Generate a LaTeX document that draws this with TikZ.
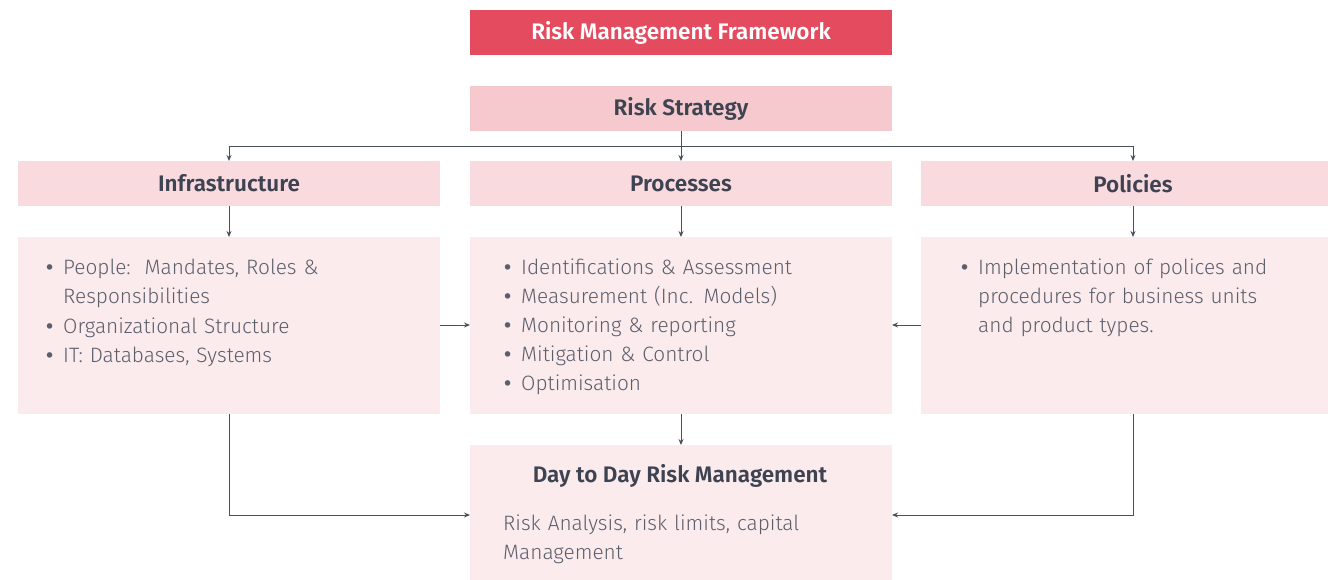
\documentclass[tikz,border=0pt]{standalone}
\usepackage{fontspec}
\setmainfont{Fira Sans}[UprightFont=* Light, BoldFont=* SemiBold]
\usetikzlibrary{arrows.meta}

\definecolor{rmfred}{HTML}{E44B5F}
\definecolor{strategypink}{HTML}{F6C9CF}
\definecolor{headpink}{HTML}{F9DBDF}
\definecolor{bodypink}{HTML}{FCEBED}
\definecolor{headtext}{HTML}{3E4351}
\definecolor{bodytext}{HTML}{5B5F6C}
\definecolor{wire}{HTML}{4B4F5D}

\newcommand{\bitem}[1]{\par\noindent\makebox[17pt][l]{\textbf{\textbullet}}\begin{tabular}[t]{@{}l@{}}#1\end{tabular}}

\tikzset{
	box/.style={anchor=north west, inner sep=0pt, outer sep=0pt, minimum height=45},
	headline/.style={font=\fontsize{22.5}{26}\selectfont\bfseries, text=headtext},
	bodyline/.style={anchor=north west, inner sep=0pt, align=left, font=\fontsize{20.8}{29}\selectfont, text=bodytext},
	arrow/.style={draw=wire, line width=0.9pt, -{Stealth[length=6pt,width=5pt]}},
	wireline/.style={draw=wire, line width=0.9pt}
}

\begin{document}
\begin{tikzpicture}[x=1pt, y=-1pt]
	\useasboundingbox (0,0) rectangle (1328,580);

	% title and strategy
	\node[box, fill=rmfred, minimum width=422, headline, text=white] (title) at (470,10) {Risk Management Framework};
	\node[box, fill=strategypink, minimum width=422, headline] (strategy) at (470,86) {Risk Strategy};

	% headers
	\node[box, fill=headpink, minimum width=422, headline] (infra) at (18,161) {Infrastructure};
	\node[box, fill=headpink, minimum width=422, headline] (proc) at (470,161) {Processes};
	\node[box, fill=headpink, minimum width=424, headline] (pol) at (921,161) {Policies};

	% bodies
	\node[box, fill=bodypink, minimum width=422, minimum height=177] (infrabody) at (18,237) {};
	\node[box, fill=bodypink, minimum width=422, minimum height=177] (procbody) at (470,237) {};
	\node[box, fill=bodypink, minimum width=424, minimum height=177] (polbody) at (921,237) {};
	\node[box, fill=bodypink, minimum width=422, minimum height=135] (daily) at (470,445) {};

	% texts
	\node[bodyline, text width=370] (infratext) at (46,245) {%
		\bitem{People:\ \ Mandates, Roles \&\\Responsibilities}
		\bitem{Organizational Structure}
		\bitem{IT: Databases, Systems}};
	\node[bodyline, text width=370] (proctext) at (504,245) {%
		\bitem{Identifications \& Assessment}
		\bitem{Measurement (Inc. Models)}
		\bitem{Monitoring \& reporting}
		\bitem{Mitigation \& Control}
		\bitem{Optimisation}};
	\node[bodyline, text width=340] (poltext) at (961,245) {%
		\bitem{Implementation of polices and\\procedures for business units\\and product types.}};
	\node[headline] (dailytitle) at (680,476) {Day to Day Risk Management};
	\node[bodyline, text width=380] (dailytext) at (503,515) {Risk Analysis, risk limits, capital\\Management};

	% strategy to headers
	\coordinate (split) at (680,146);
	\draw[arrow] (strategy) -- (proc);
	\draw[wireline] (infra.north |- split) -- (pol.north |- split);
	\draw[arrow] (infra.north |- split) -- (infra.north);
	\draw[arrow] (pol.north |- split) -- (pol.north);

	% headers to bodies
	\draw[arrow] (infra) -- (infrabody);
	\draw[arrow] (proc) -- (procbody);
	\draw[arrow] (pol) -- (polbody);

	% sideways into processes
	\draw[arrow] (infrabody.east |- 0,325) -- (procbody.west |- 0,325);
	\draw[arrow] (polbody.west |- 0,325) -- (procbody.east |- 0,325);

	% down to day to day
	\coordinate (join) at (0,515);
	\draw[arrow] (procbody) -- (daily);
	\draw[arrow] (infrabody.south) -- (infrabody.south |- join) -- (daily.west |- join);
	\draw[arrow] (polbody.south) -- (polbody.south |- join) -- (daily.east |- join);

\end{tikzpicture}
\end{document}
